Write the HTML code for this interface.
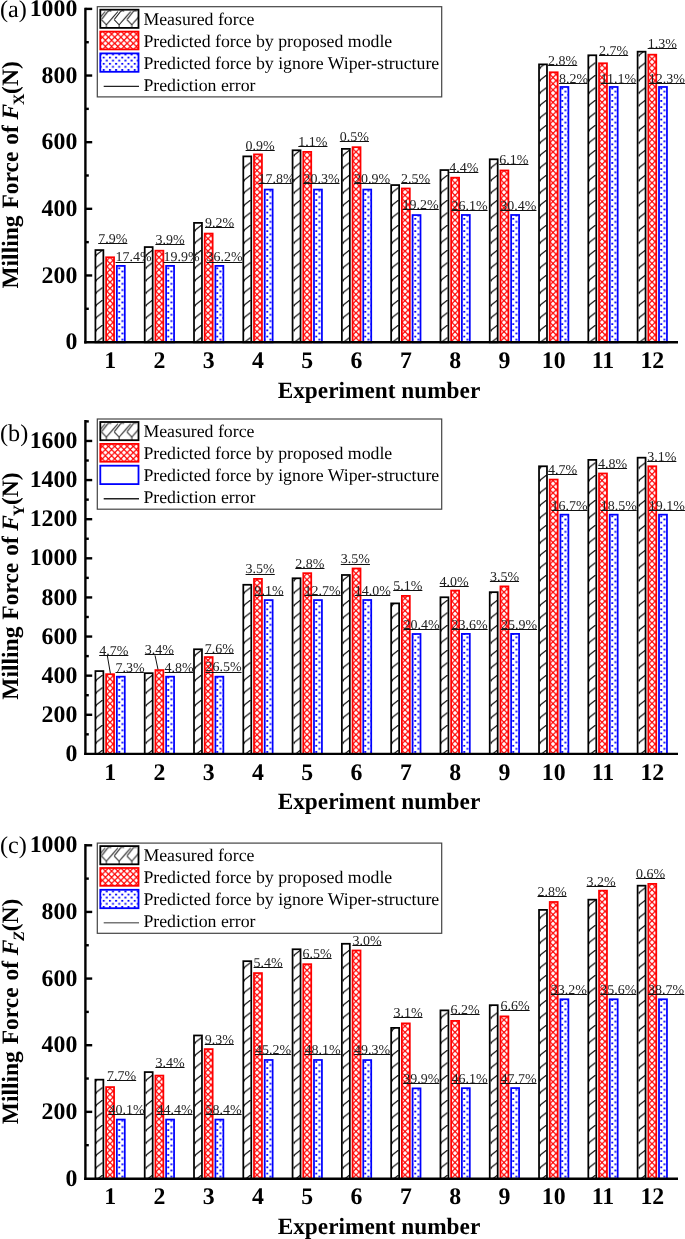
<!DOCTYPE html>
<html><head><meta charset="utf-8"><title>Milling force chart</title><style>
html,body{margin:0;padding:0;background:#fff;}
svg{display:block;will-change:transform;text-rendering:geometricPrecision;}
text{font-family:"Liberation Serif", serif;}
.p{font-size:14.0px;fill:#222;}
.u{stroke:#111;stroke-width:1;}
.yt{font-size:23.8px;font-weight:bold;text-anchor:end;}
.xt{font-size:23.8px;font-weight:bold;text-anchor:middle;}
.xl{font-size:23.3px;font-weight:bold;}
.yl{font-size:23.5px;font-weight:bold;word-spacing:1.0px;}
.pl{font-size:24.2px;}
.lg{font-size:17.8px;}
</style></head>
<body><svg width="685" height="1239" viewBox="0 0 685 1239">
<defs>
 <pattern id="pk" patternUnits="userSpaceOnUse" x="-10" y="0" width="20" height="12.5">
  <rect width="20" height="12.5" fill="#fff"/>
  <path d="M6.6,5.6 L13.6,0 M6.6,5.6 L8,5.6" stroke="#111" stroke-width="1.2" fill="none"/>
 </pattern>
 <pattern id="pkL" patternUnits="userSpaceOnUse" x="100.4" y="0" width="12.7" height="40">
  <rect width="12.7" height="40" fill="#fff"/>
  <path d="M-11.60,19.6 L-6.70,24.8 L4.90,11.5 M-6.70,24.8 L-6.70,28 M-11.60,19.6 L-5.60,11.85 M-5.60,11.85 Q-3.70,10.2 -1.70,11.2 M1.10,19.6 L6.00,24.8 L17.60,11.5 M6.00,24.8 L6.00,28 M1.10,19.6 L7.10,11.85 M7.10,11.85 Q9.00,10.2 11.00,11.2 M13.80,19.6 L18.70,24.8 L30.30,11.5 M18.70,24.8 L18.70,28 M13.80,19.6 L19.80,11.85 M19.80,11.85 Q21.70,10.2 23.70,11.2" stroke="#222" stroke-width="1.0" fill="none"/>
 </pattern>
 <pattern id="pr" patternUnits="userSpaceOnUse" width="6.2" height="6.2">
  <rect width="6.2" height="6.2" fill="#f00"/>
  <path d="M3.10,0.85 L5.35,3.10 L3.10,5.35 L0.85,3.10Z M0.00,-2.25 L2.25,0.00 L0.00,2.25 L-2.25,0.00Z M6.20,-2.25 L8.45,0.00 L6.20,2.25 L3.95,0.00Z M0.00,3.95 L2.25,6.20 L0.00,8.45 L-2.25,6.20Z M6.20,3.95 L8.45,6.20 L6.20,8.45 L3.95,6.20Z" fill="#fff"/>
 </pattern>
 <pattern id="pb" patternUnits="userSpaceOnUse" x="0" y="0" width="6.2" height="6.2">
  <rect width="6.2" height="6.2" fill="#fff"/>
  <rect x="-2.7" y="0.9" width="2" height="1.7" fill="#00f"/>
  <rect x="0.4" y="4.0" width="2" height="1.7" fill="#00f"/>
  <rect x="3.5" y="0.9" width="2" height="1.7" fill="#00f"/>
 </pattern>
</defs>
<rect width="685" height="1239" fill="#fff"/>
<g transform="translate(99,0)"><rect x="-3.58" y="250.07" width="7.95" height="92.23" fill="url(#pk)"/></g>
<rect x="95.42" y="250.07" width="7.95" height="92.23" fill="none" stroke="#000" stroke-width="1.75"/>
<g transform="translate(110,0)"><rect x="-3.88" y="257.27" width="7.95" height="85.03" fill="url(#pr)"/></g>
<rect x="106.12" y="257.27" width="7.95" height="85.03" fill="none" stroke="#f00" stroke-width="1.75"/>
<g transform="translate(121,0)"><rect x="-4.18" y="265.88" width="7.95" height="76.43" fill="url(#pb)"/></g>
<rect x="116.83" y="265.88" width="7.95" height="76.43" fill="none" stroke="#00f" stroke-width="1.75"/>
<g transform="translate(149,0)"><rect x="-4.29" y="247.07" width="7.95" height="95.23" fill="url(#pk)"/></g>
<rect x="144.72" y="247.07" width="7.95" height="95.23" fill="none" stroke="#000" stroke-width="1.75"/>
<g transform="translate(159,0)"><rect x="-3.59" y="250.68" width="7.95" height="91.62" fill="url(#pr)"/></g>
<rect x="155.41" y="250.68" width="7.95" height="91.62" fill="none" stroke="#f00" stroke-width="1.75"/>
<g transform="translate(170,0)"><rect x="-3.89" y="265.88" width="7.95" height="76.43" fill="url(#pb)"/></g>
<rect x="166.11" y="265.88" width="7.95" height="76.43" fill="none" stroke="#00f" stroke-width="1.75"/>
<g transform="translate(198,0)"><rect x="-3.99" y="222.88" width="7.95" height="119.43" fill="url(#pk)"/></g>
<rect x="194.01" y="222.88" width="7.95" height="119.43" fill="none" stroke="#000" stroke-width="1.75"/>
<g transform="translate(208,0)"><rect x="-3.29" y="233.57" width="7.95" height="108.73" fill="url(#pr)"/></g>
<rect x="204.71" y="233.57" width="7.95" height="108.73" fill="none" stroke="#f00" stroke-width="1.75"/>
<g transform="translate(219,0)"><rect x="-3.6" y="265.88" width="7.95" height="76.43" fill="url(#pb)"/></g>
<rect x="215.41" y="265.88" width="7.95" height="76.43" fill="none" stroke="#00f" stroke-width="1.75"/>
<g transform="translate(247,0)"><rect x="-3.7" y="156.38" width="7.95" height="185.93" fill="url(#pk)"/></g>
<rect x="243.3" y="156.38" width="7.95" height="185.93" fill="none" stroke="#000" stroke-width="1.75"/>
<g transform="translate(257,0)"><rect x="-3" y="154.38" width="7.95" height="187.93" fill="url(#pr)"/></g>
<rect x="254" y="154.38" width="7.95" height="187.93" fill="none" stroke="#f00" stroke-width="1.75"/>
<g transform="translate(269,0)"><rect x="-4.3" y="189.57" width="7.95" height="152.73" fill="url(#pb)"/></g>
<rect x="264.69" y="189.57" width="7.95" height="152.73" fill="none" stroke="#00f" stroke-width="1.75"/>
<g transform="translate(297,0)"><rect x="-4.41" y="150.28" width="7.95" height="192.03" fill="url(#pk)"/></g>
<rect x="292.58" y="150.28" width="7.95" height="192.03" fill="none" stroke="#000" stroke-width="1.75"/>
<g transform="translate(307,0)"><rect x="-3.72" y="151.88" width="7.95" height="190.43" fill="url(#pr)"/></g>
<rect x="303.28" y="151.88" width="7.95" height="190.43" fill="none" stroke="#f00" stroke-width="1.75"/>
<g transform="translate(318,0)"><rect x="-4.02" y="189.57" width="7.95" height="152.73" fill="url(#pb)"/></g>
<rect x="313.98" y="189.57" width="7.95" height="152.73" fill="none" stroke="#00f" stroke-width="1.75"/>
<g transform="translate(346,0)"><rect x="-4.13" y="148.88" width="7.95" height="193.43" fill="url(#pk)"/></g>
<rect x="341.87" y="148.88" width="7.95" height="193.43" fill="none" stroke="#000" stroke-width="1.75"/>
<g transform="translate(356,0)"><rect x="-3.43" y="147.18" width="7.95" height="195.12" fill="url(#pr)"/></g>
<rect x="352.57" y="147.18" width="7.95" height="195.12" fill="none" stroke="#f00" stroke-width="1.75"/>
<g transform="translate(367,0)"><rect x="-3.73" y="189.57" width="7.95" height="152.73" fill="url(#pb)"/></g>
<rect x="363.27" y="189.57" width="7.95" height="152.73" fill="none" stroke="#00f" stroke-width="1.75"/>
<g transform="translate(395,0)"><rect x="-3.83" y="185.07" width="7.95" height="157.23" fill="url(#pk)"/></g>
<rect x="391.17" y="185.07" width="7.95" height="157.23" fill="none" stroke="#000" stroke-width="1.75"/>
<g transform="translate(405,0)"><rect x="-3.13" y="188.47" width="7.95" height="153.83" fill="url(#pr)"/></g>
<rect x="401.87" y="188.47" width="7.95" height="153.83" fill="none" stroke="#f00" stroke-width="1.75"/>
<g transform="translate(417,0)"><rect x="-4.43" y="215.07" width="7.95" height="127.23" fill="url(#pb)"/></g>
<rect x="412.56" y="215.07" width="7.95" height="127.23" fill="none" stroke="#00f" stroke-width="1.75"/>
<g transform="translate(444,0)"><rect x="-3.54" y="170.07" width="7.95" height="172.23" fill="url(#pk)"/></g>
<rect x="440.45" y="170.07" width="7.95" height="172.23" fill="none" stroke="#000" stroke-width="1.75"/>
<g transform="translate(455,0)"><rect x="-3.85" y="177.68" width="7.95" height="164.62" fill="url(#pr)"/></g>
<rect x="451.15" y="177.68" width="7.95" height="164.62" fill="none" stroke="#f00" stroke-width="1.75"/>
<g transform="translate(466,0)"><rect x="-4.15" y="214.97" width="7.95" height="127.33" fill="url(#pb)"/></g>
<rect x="461.85" y="214.97" width="7.95" height="127.33" fill="none" stroke="#00f" stroke-width="1.75"/>
<g transform="translate(494,0)"><rect x="-4.26" y="159.28" width="7.95" height="183.03" fill="url(#pk)"/></g>
<rect x="489.74" y="159.28" width="7.95" height="183.03" fill="none" stroke="#000" stroke-width="1.75"/>
<g transform="translate(504,0)"><rect x="-3.56" y="170.47" width="7.95" height="171.83" fill="url(#pr)"/></g>
<rect x="500.44" y="170.47" width="7.95" height="171.83" fill="none" stroke="#f00" stroke-width="1.75"/>
<g transform="translate(515,0)"><rect x="-3.85" y="214.97" width="7.95" height="127.33" fill="url(#pb)"/></g>
<rect x="511.14" y="214.97" width="7.95" height="127.33" fill="none" stroke="#00f" stroke-width="1.75"/>
<g transform="translate(543,0)"><rect x="-3.97" y="64.38" width="7.95" height="277.93" fill="url(#pk)"/></g>
<rect x="539.03" y="64.38" width="7.95" height="277.93" fill="none" stroke="#000" stroke-width="1.75"/>
<g transform="translate(553,0)"><rect x="-3.26" y="72.28" width="7.95" height="270.02" fill="url(#pr)"/></g>
<rect x="549.74" y="72.28" width="7.95" height="270.02" fill="none" stroke="#f00" stroke-width="1.75"/>
<g transform="translate(564,0)"><rect x="-3.56" y="86.97" width="7.95" height="255.33" fill="url(#pb)"/></g>
<rect x="560.44" y="86.97" width="7.95" height="255.33" fill="none" stroke="#00f" stroke-width="1.75"/>
<g transform="translate(592,0)"><rect x="-3.68" y="55.27" width="7.95" height="287.03" fill="url(#pk)"/></g>
<rect x="588.32" y="55.27" width="7.95" height="287.03" fill="none" stroke="#000" stroke-width="1.75"/>
<g transform="translate(602,0)"><rect x="-2.97" y="63.27" width="7.95" height="279.03" fill="url(#pr)"/></g>
<rect x="599.02" y="63.27" width="7.95" height="279.03" fill="none" stroke="#f00" stroke-width="1.75"/>
<g transform="translate(614,0)"><rect x="-4.27" y="86.97" width="7.95" height="255.33" fill="url(#pb)"/></g>
<rect x="609.73" y="86.97" width="7.95" height="255.33" fill="none" stroke="#00f" stroke-width="1.75"/>
<g transform="translate(642,0)"><rect x="-4.39" y="51.67" width="7.95" height="290.62" fill="url(#pk)"/></g>
<rect x="637.61" y="51.67" width="7.95" height="290.62" fill="none" stroke="#000" stroke-width="1.75"/>
<g transform="translate(652,0)"><rect x="-3.69" y="54.67" width="7.95" height="287.62" fill="url(#pr)"/></g>
<rect x="648.31" y="54.67" width="7.95" height="287.62" fill="none" stroke="#f00" stroke-width="1.75"/>
<g transform="translate(663,0)"><rect x="-3.98" y="86.97" width="7.95" height="255.33" fill="url(#pb)"/></g>
<rect x="659.01" y="86.97" width="7.95" height="255.33" fill="none" stroke="#00f" stroke-width="1.75"/>
<line x1="85.4" y1="7.7" x2="85.4" y2="343.5" stroke="#000" stroke-width="2.4"/>
<line x1="84.2" y1="342.3" x2="678" y2="342.3" stroke="#000" stroke-width="2.4"/>
<text x="77.3" y="349.2" class="yt">0</text>
<line x1="85.4" y1="308.78" x2="88.8" y2="308.78" stroke="#000" stroke-width="2.4"/>
<line x1="85.4" y1="275.46" x2="92.2" y2="275.46" stroke="#000" stroke-width="2.4"/>
<text x="77.3" y="282.56" class="yt">200</text>
<line x1="85.4" y1="242.14" x2="88.8" y2="242.14" stroke="#000" stroke-width="2.4"/>
<line x1="85.4" y1="208.82" x2="92.2" y2="208.82" stroke="#000" stroke-width="2.4"/>
<text x="77.3" y="215.92" class="yt">400</text>
<line x1="85.4" y1="175.5" x2="88.8" y2="175.5" stroke="#000" stroke-width="2.4"/>
<line x1="85.4" y1="142.18" x2="92.2" y2="142.18" stroke="#000" stroke-width="2.4"/>
<text x="77.3" y="149.28" class="yt">600</text>
<line x1="85.4" y1="108.86" x2="88.8" y2="108.86" stroke="#000" stroke-width="2.4"/>
<line x1="85.4" y1="75.54" x2="92.2" y2="75.54" stroke="#000" stroke-width="2.4"/>
<text x="77.3" y="82.64" class="yt">800</text>
<line x1="85.4" y1="42.22" x2="88.8" y2="42.22" stroke="#000" stroke-width="2.4"/>
<line x1="85.4" y1="8.9" x2="92.2" y2="8.9" stroke="#000" stroke-width="2.4"/>
<text x="77.3" y="16" class="yt">1000</text>
<text x="110.1" y="367.9" class="xt">1</text>
<text x="159.39" y="367.9" class="xt">2</text>
<text x="208.68" y="367.9" class="xt">3</text>
<text x="257.97" y="367.9" class="xt">4</text>
<text x="307.26" y="367.9" class="xt">5</text>
<text x="356.55" y="367.9" class="xt">6</text>
<text x="405.84" y="367.9" class="xt">7</text>
<text x="455.13" y="367.9" class="xt">8</text>
<text x="504.42" y="367.9" class="xt">9</text>
<text x="553.71" y="367.9" class="xt">10</text>
<text x="603" y="367.9" class="xt">11</text>
<text x="652.29" y="367.9" class="xt">12</text>
<text x="277.7" y="397.8" class="xl">Experiment number</text>
<text transform="translate(17.9,288.6) rotate(-90)" class="yl">Milling Force of <tspan font-style="italic" dx="-1.3">F</tspan><tspan font-size="15.8" dy="6.4" dx="-1.2">X</tspan><tspan dy="-6.4" dx="-0.2">(N)</tspan></text>
<text x="0" y="17.1" class="pl">(a)</text>
<rect x="97.3" y="6.7" width="344.4" height="90.2" fill="#fff" stroke="#444" stroke-width="1.2"/>
<g transform="translate(0,0)"><rect x="100.3" y="9.7" width="38.2" height="18.2" fill="url(#pkL)" stroke="#000" stroke-width="1.8"/></g>
<rect x="100.3" y="31.6" width="38.2" height="17.8" fill="url(#pr)" stroke="#f00" stroke-width="1.8"/>
<rect x="100.3" y="53.4" width="38.2" height="18.4" fill="url(#pb)" stroke="#00f" stroke-width="1.8"/>
<line x1="103.7" y1="86.4" x2="139" y2="86.4" stroke="#222" stroke-width="1.4"/>
<text x="143.4" y="24.8" class="lg">Measured force</text>
<text x="143.4" y="46.7" class="lg">Predicted force by proposed modle</text>
<text x="143.4" y="68.6" class="lg">Predicted force by ignore Wiper-structure</text>
<text x="143.4" y="90.5" class="lg">Prediction error</text>
<text transform="translate(98.2,243.2) scale(1,0.965)" class="p">7.9%</text>
<line x1="98.2" y1="243.5" x2="127.36" y2="243.5" class="u"/>
<text transform="translate(155.4,243.6) scale(1,0.965)" class="p">3.9%</text>
<line x1="155.4" y1="244.5" x2="184.56" y2="244.5" class="u"/>
<text transform="translate(205,226.6) scale(1,0.965)" class="p">9.2%</text>
<line x1="205" y1="227.5" x2="234.16" y2="227.5" class="u"/>
<text transform="translate(245.6,149.5) scale(1,0.965)" class="p">0.9%</text>
<line x1="245.6" y1="150.5" x2="274.76" y2="150.5" class="u"/>
<text transform="translate(298.3,145.9) scale(1,0.965)" class="p">1.1%</text>
<line x1="298.3" y1="146.5" x2="327.46" y2="146.5" class="u"/>
<text transform="translate(339.8,140.7) scale(1,0.965)" class="p">0.5%</text>
<line x1="339.8" y1="141.5" x2="368.96" y2="141.5" class="u"/>
<text transform="translate(401.1,182.6) scale(1,0.965)" class="p">2.5%</text>
<line x1="401.1" y1="183.5" x2="430.26" y2="183.5" class="u"/>
<text transform="translate(449.2,171.8) scale(1,0.965)" class="p">4.4%</text>
<line x1="449.2" y1="172.5" x2="478.36" y2="172.5" class="u"/>
<text transform="translate(499.3,164.2) scale(1,0.965)" class="p">6.1%</text>
<line x1="499.3" y1="164.5" x2="528.46" y2="164.5" class="u"/>
<text transform="translate(548.1,64.9) scale(1,0.965)" class="p">2.8%</text>
<line x1="548.1" y1="65.5" x2="577.26" y2="65.5" class="u"/>
<text transform="translate(599,54.7) scale(1,0.965)" class="p">2.7%</text>
<line x1="599" y1="55.5" x2="628.16" y2="55.5" class="u"/>
<text transform="translate(647.7,47.7) scale(1,0.965)" class="p">1.3%</text>
<line x1="647.7" y1="48.5" x2="676.86" y2="48.5" class="u"/>
<text transform="translate(115.5,261.4) scale(1,0.965)" class="p">17.4%</text>
<line x1="115.5" y1="262.5" x2="143.84" y2="262.5" class="u"/>
<text transform="translate(163.6,261.4) scale(1,0.965)" class="p">19.9%</text>
<line x1="163.6" y1="262.5" x2="193.13" y2="262.5" class="u"/>
<text transform="translate(206.5,261.4) scale(1,0.965)" class="p">36.2%</text>
<line x1="206.5" y1="262.5" x2="242.42" y2="262.5" class="u"/>
<text transform="translate(258.5,183.3) scale(1,0.965)" class="p">17.8%</text>
<line x1="258.5" y1="183.5" x2="291.71" y2="183.5" class="u"/>
<text transform="translate(303.4,183.3) scale(1,0.965)" class="p">20.3%</text>
<line x1="303.4" y1="183.5" x2="339.56" y2="183.5" class="u"/>
<text transform="translate(354.1,183.3) scale(1,0.965)" class="p">20.9%</text>
<line x1="354.1" y1="183.5" x2="390.26" y2="183.5" class="u"/>
<text transform="translate(402.6,209.2) scale(1,0.965)" class="p">19.2%</text>
<line x1="402.6" y1="209.5" x2="438.76" y2="209.5" class="u"/>
<text transform="translate(451.4,209.6) scale(1,0.965)" class="p">26.1%</text>
<line x1="451.4" y1="210.5" x2="487.56" y2="210.5" class="u"/>
<text transform="translate(500.3,209.6) scale(1,0.965)" class="p">30.4%</text>
<line x1="500.3" y1="210.5" x2="536.46" y2="210.5" class="u"/>
<text transform="translate(559,82.5) scale(1,0.965)" class="p">8.2%</text>
<line x1="559" y1="83.5" x2="587.45" y2="83.5" class="u"/>
<text transform="translate(600.6,82.7) scale(1,0.965)" class="p">11.1%</text>
<line x1="600.6" y1="83.5" x2="636.24" y2="83.5" class="u"/>
<text transform="translate(648.8,82.7) scale(1,0.965)" class="p">12.3%</text>
<line x1="648.8" y1="83.5" x2="684.96" y2="83.5" class="u"/>
<g transform="translate(99,0)"><rect x="-3.58" y="671.08" width="7.95" height="82.82" fill="url(#pk)"/></g>
<rect x="95.42" y="671.08" width="7.95" height="82.82" fill="none" stroke="#000" stroke-width="1.75"/>
<g transform="translate(110,0)"><rect x="-3.88" y="674.17" width="7.95" height="79.73" fill="url(#pr)"/></g>
<rect x="106.12" y="674.17" width="7.95" height="79.73" fill="none" stroke="#f00" stroke-width="1.75"/>
<g transform="translate(121,0)"><rect x="-4.18" y="676.67" width="7.95" height="77.23" fill="url(#pb)"/></g>
<rect x="116.83" y="676.67" width="7.95" height="77.23" fill="none" stroke="#00f" stroke-width="1.75"/>
<g transform="translate(149,0)"><rect x="-4.29" y="673.17" width="7.95" height="80.73" fill="url(#pk)"/></g>
<rect x="144.72" y="673.17" width="7.95" height="80.73" fill="none" stroke="#000" stroke-width="1.75"/>
<g transform="translate(159,0)"><rect x="-3.59" y="670.08" width="7.95" height="83.82" fill="url(#pr)"/></g>
<rect x="155.41" y="670.08" width="7.95" height="83.82" fill="none" stroke="#f00" stroke-width="1.75"/>
<g transform="translate(170,0)"><rect x="-3.89" y="676.67" width="7.95" height="77.23" fill="url(#pb)"/></g>
<rect x="166.11" y="676.67" width="7.95" height="77.23" fill="none" stroke="#00f" stroke-width="1.75"/>
<g transform="translate(198,0)"><rect x="-3.99" y="649.27" width="7.95" height="104.62" fill="url(#pk)"/></g>
<rect x="194.01" y="649.27" width="7.95" height="104.62" fill="none" stroke="#000" stroke-width="1.75"/>
<g transform="translate(208,0)"><rect x="-3.29" y="657.08" width="7.95" height="96.82" fill="url(#pr)"/></g>
<rect x="204.71" y="657.08" width="7.95" height="96.82" fill="none" stroke="#f00" stroke-width="1.75"/>
<g transform="translate(219,0)"><rect x="-3.6" y="676.67" width="7.95" height="77.23" fill="url(#pb)"/></g>
<rect x="215.41" y="676.67" width="7.95" height="77.23" fill="none" stroke="#00f" stroke-width="1.75"/>
<g transform="translate(247,0)"><rect x="-3.7" y="584.77" width="7.95" height="169.12" fill="url(#pk)"/></g>
<rect x="243.3" y="584.77" width="7.95" height="169.12" fill="none" stroke="#000" stroke-width="1.75"/>
<g transform="translate(257,0)"><rect x="-3" y="578.88" width="7.95" height="175.02" fill="url(#pr)"/></g>
<rect x="254" y="578.88" width="7.95" height="175.02" fill="none" stroke="#f00" stroke-width="1.75"/>
<g transform="translate(269,0)"><rect x="-4.3" y="600.08" width="7.95" height="153.82" fill="url(#pb)"/></g>
<rect x="264.69" y="600.08" width="7.95" height="153.82" fill="none" stroke="#00f" stroke-width="1.75"/>
<g transform="translate(297,0)"><rect x="-4.41" y="578.27" width="7.95" height="175.62" fill="url(#pk)"/></g>
<rect x="292.58" y="578.27" width="7.95" height="175.62" fill="none" stroke="#000" stroke-width="1.75"/>
<g transform="translate(307,0)"><rect x="-3.72" y="573.17" width="7.95" height="180.73" fill="url(#pr)"/></g>
<rect x="303.28" y="573.17" width="7.95" height="180.73" fill="none" stroke="#f00" stroke-width="1.75"/>
<g transform="translate(318,0)"><rect x="-4.02" y="600.08" width="7.95" height="153.82" fill="url(#pb)"/></g>
<rect x="313.98" y="600.08" width="7.95" height="153.82" fill="none" stroke="#00f" stroke-width="1.75"/>
<g transform="translate(346,0)"><rect x="-4.13" y="574.98" width="7.95" height="178.92" fill="url(#pk)"/></g>
<rect x="341.87" y="574.98" width="7.95" height="178.92" fill="none" stroke="#000" stroke-width="1.75"/>
<g transform="translate(356,0)"><rect x="-3.43" y="568.48" width="7.95" height="185.42" fill="url(#pr)"/></g>
<rect x="352.57" y="568.48" width="7.95" height="185.42" fill="none" stroke="#f00" stroke-width="1.75"/>
<g transform="translate(367,0)"><rect x="-3.73" y="599.98" width="7.95" height="153.92" fill="url(#pb)"/></g>
<rect x="363.27" y="599.98" width="7.95" height="153.92" fill="none" stroke="#00f" stroke-width="1.75"/>
<g transform="translate(395,0)"><rect x="-3.83" y="603.38" width="7.95" height="150.52" fill="url(#pk)"/></g>
<rect x="391.17" y="603.38" width="7.95" height="150.52" fill="none" stroke="#000" stroke-width="1.75"/>
<g transform="translate(405,0)"><rect x="-3.13" y="595.88" width="7.95" height="158.02" fill="url(#pr)"/></g>
<rect x="401.87" y="595.88" width="7.95" height="158.02" fill="none" stroke="#f00" stroke-width="1.75"/>
<g transform="translate(417,0)"><rect x="-4.43" y="633.98" width="7.95" height="119.92" fill="url(#pb)"/></g>
<rect x="412.56" y="633.98" width="7.95" height="119.92" fill="none" stroke="#00f" stroke-width="1.75"/>
<g transform="translate(444,0)"><rect x="-3.54" y="597.27" width="7.95" height="156.62" fill="url(#pk)"/></g>
<rect x="440.45" y="597.27" width="7.95" height="156.62" fill="none" stroke="#000" stroke-width="1.75"/>
<g transform="translate(455,0)"><rect x="-3.85" y="590.58" width="7.95" height="163.32" fill="url(#pr)"/></g>
<rect x="451.15" y="590.58" width="7.95" height="163.32" fill="none" stroke="#f00" stroke-width="1.75"/>
<g transform="translate(466,0)"><rect x="-4.15" y="633.88" width="7.95" height="120.02" fill="url(#pb)"/></g>
<rect x="461.85" y="633.88" width="7.95" height="120.02" fill="none" stroke="#00f" stroke-width="1.75"/>
<g transform="translate(494,0)"><rect x="-4.26" y="592.17" width="7.95" height="161.73" fill="url(#pk)"/></g>
<rect x="489.74" y="592.17" width="7.95" height="161.73" fill="none" stroke="#000" stroke-width="1.75"/>
<g transform="translate(504,0)"><rect x="-3.56" y="586.38" width="7.95" height="167.52" fill="url(#pr)"/></g>
<rect x="500.44" y="586.38" width="7.95" height="167.52" fill="none" stroke="#f00" stroke-width="1.75"/>
<g transform="translate(515,0)"><rect x="-3.85" y="633.88" width="7.95" height="120.02" fill="url(#pb)"/></g>
<rect x="511.14" y="633.88" width="7.95" height="120.02" fill="none" stroke="#00f" stroke-width="1.75"/>
<g transform="translate(543,0)"><rect x="-3.97" y="466.27" width="7.95" height="287.62" fill="url(#pk)"/></g>
<rect x="539.03" y="466.27" width="7.95" height="287.62" fill="none" stroke="#000" stroke-width="1.75"/>
<g transform="translate(553,0)"><rect x="-3.26" y="479.57" width="7.95" height="274.32" fill="url(#pr)"/></g>
<rect x="549.74" y="479.57" width="7.95" height="274.32" fill="none" stroke="#f00" stroke-width="1.75"/>
<g transform="translate(564,0)"><rect x="-3.56" y="514.67" width="7.95" height="239.23" fill="url(#pb)"/></g>
<rect x="560.44" y="514.67" width="7.95" height="239.23" fill="none" stroke="#00f" stroke-width="1.75"/>
<g transform="translate(592,0)"><rect x="-3.68" y="459.88" width="7.95" height="294.02" fill="url(#pk)"/></g>
<rect x="588.32" y="459.88" width="7.95" height="294.02" fill="none" stroke="#000" stroke-width="1.75"/>
<g transform="translate(602,0)"><rect x="-2.97" y="473.48" width="7.95" height="280.42" fill="url(#pr)"/></g>
<rect x="599.02" y="473.48" width="7.95" height="280.42" fill="none" stroke="#f00" stroke-width="1.75"/>
<g transform="translate(614,0)"><rect x="-4.27" y="514.67" width="7.95" height="239.23" fill="url(#pb)"/></g>
<rect x="609.73" y="514.67" width="7.95" height="239.23" fill="none" stroke="#00f" stroke-width="1.75"/>
<g transform="translate(642,0)"><rect x="-4.39" y="457.68" width="7.95" height="296.22" fill="url(#pk)"/></g>
<rect x="637.61" y="457.68" width="7.95" height="296.22" fill="none" stroke="#000" stroke-width="1.75"/>
<g transform="translate(652,0)"><rect x="-3.69" y="466.27" width="7.95" height="287.62" fill="url(#pr)"/></g>
<rect x="648.31" y="466.27" width="7.95" height="287.62" fill="none" stroke="#f00" stroke-width="1.75"/>
<g transform="translate(663,0)"><rect x="-3.98" y="514.67" width="7.95" height="239.23" fill="url(#pb)"/></g>
<rect x="659.01" y="514.67" width="7.95" height="239.23" fill="none" stroke="#00f" stroke-width="1.75"/>
<line x1="85.4" y1="420.1" x2="85.4" y2="755.1" stroke="#000" stroke-width="2.4"/>
<line x1="84.2" y1="753.9" x2="678" y2="753.9" stroke="#000" stroke-width="2.4"/>
<text x="77.3" y="761" class="yt">0</text>
<line x1="85.4" y1="734.34" x2="88.8" y2="734.34" stroke="#000" stroke-width="2.4"/>
<line x1="85.4" y1="714.78" x2="92.2" y2="714.78" stroke="#000" stroke-width="2.4"/>
<text x="77.3" y="721.88" class="yt">200</text>
<line x1="85.4" y1="695.22" x2="88.8" y2="695.22" stroke="#000" stroke-width="2.4"/>
<line x1="85.4" y1="675.66" x2="92.2" y2="675.66" stroke="#000" stroke-width="2.4"/>
<text x="77.3" y="682.76" class="yt">400</text>
<line x1="85.4" y1="656.11" x2="88.8" y2="656.11" stroke="#000" stroke-width="2.4"/>
<line x1="85.4" y1="636.55" x2="92.2" y2="636.55" stroke="#000" stroke-width="2.4"/>
<text x="77.3" y="643.65" class="yt">600</text>
<line x1="85.4" y1="616.99" x2="88.8" y2="616.99" stroke="#000" stroke-width="2.4"/>
<line x1="85.4" y1="597.43" x2="92.2" y2="597.43" stroke="#000" stroke-width="2.4"/>
<text x="77.3" y="604.53" class="yt">800</text>
<line x1="85.4" y1="577.87" x2="88.8" y2="577.87" stroke="#000" stroke-width="2.4"/>
<line x1="85.4" y1="558.31" x2="92.2" y2="558.31" stroke="#000" stroke-width="2.4"/>
<text x="77.3" y="565.41" class="yt">1000</text>
<line x1="85.4" y1="538.75" x2="88.8" y2="538.75" stroke="#000" stroke-width="2.4"/>
<line x1="85.4" y1="519.19" x2="92.2" y2="519.19" stroke="#000" stroke-width="2.4"/>
<text x="77.3" y="526.29" class="yt">1200</text>
<line x1="85.4" y1="499.63" x2="88.8" y2="499.63" stroke="#000" stroke-width="2.4"/>
<line x1="85.4" y1="480.07" x2="92.2" y2="480.07" stroke="#000" stroke-width="2.4"/>
<text x="77.3" y="487.17" class="yt">1400</text>
<line x1="85.4" y1="460.51" x2="88.8" y2="460.51" stroke="#000" stroke-width="2.4"/>
<line x1="85.4" y1="440.96" x2="92.2" y2="440.96" stroke="#000" stroke-width="2.4"/>
<text x="77.3" y="448.06" class="yt">1600</text>
<line x1="85.4" y1="421.4" x2="88.8" y2="421.4" stroke="#000" stroke-width="2.4"/>
<text x="110.1" y="779.5" class="xt">1</text>
<text x="159.39" y="779.5" class="xt">2</text>
<text x="208.68" y="779.5" class="xt">3</text>
<text x="257.97" y="779.5" class="xt">4</text>
<text x="307.26" y="779.5" class="xt">5</text>
<text x="356.55" y="779.5" class="xt">6</text>
<text x="405.84" y="779.5" class="xt">7</text>
<text x="455.13" y="779.5" class="xt">8</text>
<text x="504.42" y="779.5" class="xt">9</text>
<text x="553.71" y="779.5" class="xt">10</text>
<text x="603" y="779.5" class="xt">11</text>
<text x="652.29" y="779.5" class="xt">12</text>
<text x="277.7" y="809.4" class="xl">Experiment number</text>
<text transform="translate(17.9,699.7) rotate(-90)" class="yl">Milling Force of <tspan font-style="italic" dx="-1.3">F</tspan><tspan font-size="15.8" dy="6.4" dx="-1.2">Y</tspan><tspan dy="-6.4" dx="-0.2">(N)</tspan></text>
<text x="0" y="441.2" class="pl">(b)</text>
<rect x="97.3" y="419" width="344.4" height="90.2" fill="#fff" stroke="#444" stroke-width="1.2"/>
<g transform="translate(0,412.3)"><rect x="100.3" y="9.7" width="38.2" height="18.2" fill="url(#pkL)" stroke="#000" stroke-width="1.8"/></g>
<rect x="100.3" y="443.9" width="38.2" height="17.8" fill="url(#pr)" stroke="#f00" stroke-width="1.8"/>
<rect x="100.3" y="465.7" width="38.2" height="18.4" fill="#fff" stroke="#00f" stroke-width="1.8"/>
<line x1="103.7" y1="498.7" x2="139" y2="498.7" stroke="#222" stroke-width="1.4"/>
<text x="143.4" y="437.1" class="lg">Measured force</text>
<text x="143.4" y="459" class="lg">Predicted force by proposed modle</text>
<text x="143.4" y="480.9" class="lg">Predicted force by ignore Wiper-structure</text>
<text x="143.4" y="502.8" class="lg">Prediction error</text>
<text transform="translate(99.2,655.1) scale(1,0.965)" class="p">4.7%</text>
<line x1="99.2" y1="655.5" x2="128.36" y2="655.5" class="u"/>
<text transform="translate(144.8,654.4) scale(1,0.965)" class="p">3.4%</text>
<line x1="144.8" y1="654.5" x2="173.96" y2="654.5" class="u"/>
<text transform="translate(204.7,652.5) scale(1,0.965)" class="p">7.6%</text>
<line x1="204.7" y1="653.5" x2="233.86" y2="653.5" class="u"/>
<text transform="translate(245.6,573.4) scale(1,0.965)" class="p">3.5%</text>
<line x1="245.6" y1="574.5" x2="274.76" y2="574.5" class="u"/>
<text transform="translate(295.3,567.7) scale(1,0.965)" class="p">2.8%</text>
<line x1="295.3" y1="568.5" x2="324.46" y2="568.5" class="u"/>
<text transform="translate(340.8,563.4) scale(1,0.965)" class="p">3.5%</text>
<line x1="340.8" y1="564.5" x2="369.96" y2="564.5" class="u"/>
<text transform="translate(393.2,590.4) scale(1,0.965)" class="p">5.1%</text>
<line x1="393.2" y1="590.5" x2="422.36" y2="590.5" class="u"/>
<text transform="translate(439.6,585.9) scale(1,0.965)" class="p">4.0%</text>
<line x1="439.6" y1="586.5" x2="468.76" y2="586.5" class="u"/>
<text transform="translate(489.9,581.2) scale(1,0.965)" class="p">3.5%</text>
<line x1="489.9" y1="581.5" x2="519.06" y2="581.5" class="u"/>
<text transform="translate(548.1,474) scale(1,0.965)" class="p">4.7%</text>
<line x1="548.1" y1="474.5" x2="577.26" y2="474.5" class="u"/>
<text transform="translate(597.9,468.3) scale(1,0.965)" class="p">4.8%</text>
<line x1="597.9" y1="468.5" x2="627.06" y2="468.5" class="u"/>
<text transform="translate(647.2,460.9) scale(1,0.965)" class="p">3.1%</text>
<line x1="647.2" y1="461.5" x2="676.36" y2="461.5" class="u"/>
<text transform="translate(115.5,671.8) scale(1,0.965)" class="p">7.3%</text>
<line x1="115.5" y1="672.5" x2="143.84" y2="672.5" class="u"/>
<text transform="translate(164.6,671.8) scale(1,0.965)" class="p">4.8%</text>
<line x1="164.6" y1="672.5" x2="193.13" y2="672.5" class="u"/>
<text transform="translate(205.4,671.4) scale(1,0.965)" class="p">26.5%</text>
<line x1="205.4" y1="672.5" x2="241.56" y2="672.5" class="u"/>
<text transform="translate(254.4,594.9) scale(1,0.965)" class="p">9.1%</text>
<line x1="254.4" y1="595.5" x2="283.56" y2="595.5" class="u"/>
<text transform="translate(304.5,594.9) scale(1,0.965)" class="p">12.7%</text>
<line x1="304.5" y1="595.5" x2="340.66" y2="595.5" class="u"/>
<text transform="translate(354.7,594.5) scale(1,0.965)" class="p">14.0%</text>
<line x1="354.7" y1="595.5" x2="390.29" y2="595.5" class="u"/>
<text transform="translate(403.4,628.9) scale(1,0.965)" class="p">20.4%</text>
<line x1="403.4" y1="629.5" x2="439.56" y2="629.5" class="u"/>
<text transform="translate(451.5,629) scale(1,0.965)" class="p">23.6%</text>
<line x1="451.5" y1="629.5" x2="487.66" y2="629.5" class="u"/>
<text transform="translate(500.9,629) scale(1,0.965)" class="p">25.9%</text>
<line x1="500.9" y1="629.5" x2="537.06" y2="629.5" class="u"/>
<text transform="translate(551.5,509.5) scale(1,0.965)" class="p">16.7%</text>
<line x1="551.5" y1="510.5" x2="587.45" y2="510.5" class="u"/>
<text transform="translate(600.8,509.5) scale(1,0.965)" class="p">18.5%</text>
<line x1="600.8" y1="510.5" x2="636.74" y2="510.5" class="u"/>
<text transform="translate(648.8,509.5) scale(1,0.965)" class="p">19.1%</text>
<line x1="648.8" y1="510.5" x2="684.96" y2="510.5" class="u"/>
<line x1="107.4" y1="656" x2="110.4" y2="673.5" class="u"/>
<line x1="155" y1="655.3" x2="158" y2="669.4" class="u"/>
<g transform="translate(99,0)"><rect x="-3.58" y="1079.67" width="7.95" height="99.03" fill="url(#pk)"/></g>
<rect x="95.42" y="1079.67" width="7.95" height="99.03" fill="none" stroke="#000" stroke-width="1.75"/>
<g transform="translate(110,0)"><rect x="-3.88" y="1087.08" width="7.95" height="91.62" fill="url(#pr)"/></g>
<rect x="106.12" y="1087.08" width="7.95" height="91.62" fill="none" stroke="#f00" stroke-width="1.75"/>
<g transform="translate(121,0)"><rect x="-4.18" y="1119.58" width="7.95" height="59.12" fill="url(#pb)"/></g>
<rect x="116.83" y="1119.58" width="7.95" height="59.12" fill="none" stroke="#00f" stroke-width="1.75"/>
<g transform="translate(149,0)"><rect x="-4.29" y="1072.08" width="7.95" height="106.62" fill="url(#pk)"/></g>
<rect x="144.72" y="1072.08" width="7.95" height="106.62" fill="none" stroke="#000" stroke-width="1.75"/>
<g transform="translate(159,0)"><rect x="-3.59" y="1075.58" width="7.95" height="103.12" fill="url(#pr)"/></g>
<rect x="155.41" y="1075.58" width="7.95" height="103.12" fill="none" stroke="#f00" stroke-width="1.75"/>
<g transform="translate(170,0)"><rect x="-3.89" y="1119.58" width="7.95" height="59.12" fill="url(#pb)"/></g>
<rect x="166.11" y="1119.58" width="7.95" height="59.12" fill="none" stroke="#00f" stroke-width="1.75"/>
<g transform="translate(198,0)"><rect x="-3.99" y="1035.47" width="7.95" height="143.23" fill="url(#pk)"/></g>
<rect x="194.01" y="1035.47" width="7.95" height="143.23" fill="none" stroke="#000" stroke-width="1.75"/>
<g transform="translate(208,0)"><rect x="-3.29" y="1049.08" width="7.95" height="129.62" fill="url(#pr)"/></g>
<rect x="204.71" y="1049.08" width="7.95" height="129.62" fill="none" stroke="#f00" stroke-width="1.75"/>
<g transform="translate(219,0)"><rect x="-3.6" y="1119.58" width="7.95" height="59.12" fill="url(#pb)"/></g>
<rect x="215.41" y="1119.58" width="7.95" height="59.12" fill="none" stroke="#00f" stroke-width="1.75"/>
<g transform="translate(247,0)"><rect x="-3.7" y="961.17" width="7.95" height="217.53" fill="url(#pk)"/></g>
<rect x="243.3" y="961.17" width="7.95" height="217.53" fill="none" stroke="#000" stroke-width="1.75"/>
<g transform="translate(257,0)"><rect x="-3" y="973.08" width="7.95" height="205.62" fill="url(#pr)"/></g>
<rect x="254" y="973.08" width="7.95" height="205.62" fill="none" stroke="#f00" stroke-width="1.75"/>
<g transform="translate(269,0)"><rect x="-4.3" y="1059.97" width="7.95" height="118.73" fill="url(#pb)"/></g>
<rect x="264.69" y="1059.97" width="7.95" height="118.73" fill="none" stroke="#00f" stroke-width="1.75"/>
<g transform="translate(297,0)"><rect x="-4.41" y="949.27" width="7.95" height="229.43" fill="url(#pk)"/></g>
<rect x="292.58" y="949.27" width="7.95" height="229.43" fill="none" stroke="#000" stroke-width="1.75"/>
<g transform="translate(307,0)"><rect x="-3.72" y="964.17" width="7.95" height="214.53" fill="url(#pr)"/></g>
<rect x="303.28" y="964.17" width="7.95" height="214.53" fill="none" stroke="#f00" stroke-width="1.75"/>
<g transform="translate(318,0)"><rect x="-4.02" y="1059.97" width="7.95" height="118.73" fill="url(#pb)"/></g>
<rect x="313.98" y="1059.97" width="7.95" height="118.73" fill="none" stroke="#00f" stroke-width="1.75"/>
<g transform="translate(346,0)"><rect x="-4.13" y="943.77" width="7.95" height="234.93" fill="url(#pk)"/></g>
<rect x="341.87" y="943.77" width="7.95" height="234.93" fill="none" stroke="#000" stroke-width="1.75"/>
<g transform="translate(356,0)"><rect x="-3.43" y="950.48" width="7.95" height="228.23" fill="url(#pr)"/></g>
<rect x="352.57" y="950.48" width="7.95" height="228.23" fill="none" stroke="#f00" stroke-width="1.75"/>
<g transform="translate(367,0)"><rect x="-3.73" y="1060.08" width="7.95" height="118.62" fill="url(#pb)"/></g>
<rect x="363.27" y="1060.08" width="7.95" height="118.62" fill="none" stroke="#00f" stroke-width="1.75"/>
<g transform="translate(395,0)"><rect x="-3.83" y="1027.88" width="7.95" height="150.83" fill="url(#pk)"/></g>
<rect x="391.17" y="1027.88" width="7.95" height="150.83" fill="none" stroke="#000" stroke-width="1.75"/>
<g transform="translate(405,0)"><rect x="-3.13" y="1023.38" width="7.95" height="155.33" fill="url(#pr)"/></g>
<rect x="401.87" y="1023.38" width="7.95" height="155.33" fill="none" stroke="#f00" stroke-width="1.75"/>
<g transform="translate(417,0)"><rect x="-4.43" y="1088.38" width="7.95" height="90.33" fill="url(#pb)"/></g>
<rect x="412.56" y="1088.38" width="7.95" height="90.33" fill="none" stroke="#00f" stroke-width="1.75"/>
<g transform="translate(444,0)"><rect x="-3.54" y="1010.38" width="7.95" height="168.33" fill="url(#pk)"/></g>
<rect x="440.45" y="1010.38" width="7.95" height="168.33" fill="none" stroke="#000" stroke-width="1.75"/>
<g transform="translate(455,0)"><rect x="-3.85" y="1020.88" width="7.95" height="157.83" fill="url(#pr)"/></g>
<rect x="451.15" y="1020.88" width="7.95" height="157.83" fill="none" stroke="#f00" stroke-width="1.75"/>
<g transform="translate(466,0)"><rect x="-4.15" y="1088.17" width="7.95" height="90.53" fill="url(#pb)"/></g>
<rect x="461.85" y="1088.17" width="7.95" height="90.53" fill="none" stroke="#00f" stroke-width="1.75"/>
<g transform="translate(494,0)"><rect x="-4.26" y="1005.17" width="7.95" height="173.53" fill="url(#pk)"/></g>
<rect x="489.74" y="1005.17" width="7.95" height="173.53" fill="none" stroke="#000" stroke-width="1.75"/>
<g transform="translate(504,0)"><rect x="-3.56" y="1016.38" width="7.95" height="162.33" fill="url(#pr)"/></g>
<rect x="500.44" y="1016.38" width="7.95" height="162.33" fill="none" stroke="#f00" stroke-width="1.75"/>
<g transform="translate(515,0)"><rect x="-3.85" y="1088.08" width="7.95" height="90.62" fill="url(#pb)"/></g>
<rect x="511.14" y="1088.08" width="7.95" height="90.62" fill="none" stroke="#00f" stroke-width="1.75"/>
<g transform="translate(543,0)"><rect x="-3.97" y="909.88" width="7.95" height="268.83" fill="url(#pk)"/></g>
<rect x="539.03" y="909.88" width="7.95" height="268.83" fill="none" stroke="#000" stroke-width="1.75"/>
<g transform="translate(553,0)"><rect x="-3.26" y="901.98" width="7.95" height="276.73" fill="url(#pr)"/></g>
<rect x="549.74" y="901.98" width="7.95" height="276.73" fill="none" stroke="#f00" stroke-width="1.75"/>
<g transform="translate(564,0)"><rect x="-3.56" y="999.27" width="7.95" height="179.43" fill="url(#pb)"/></g>
<rect x="560.44" y="999.27" width="7.95" height="179.43" fill="none" stroke="#00f" stroke-width="1.75"/>
<g transform="translate(592,0)"><rect x="-3.68" y="899.67" width="7.95" height="279.03" fill="url(#pk)"/></g>
<rect x="588.32" y="899.67" width="7.95" height="279.03" fill="none" stroke="#000" stroke-width="1.75"/>
<g transform="translate(602,0)"><rect x="-2.97" y="890.67" width="7.95" height="288.03" fill="url(#pr)"/></g>
<rect x="599.02" y="890.67" width="7.95" height="288.03" fill="none" stroke="#f00" stroke-width="1.75"/>
<g transform="translate(614,0)"><rect x="-4.27" y="999.27" width="7.95" height="179.43" fill="url(#pb)"/></g>
<rect x="609.73" y="999.27" width="7.95" height="179.43" fill="none" stroke="#00f" stroke-width="1.75"/>
<g transform="translate(642,0)"><rect x="-4.39" y="885.67" width="7.95" height="293.03" fill="url(#pk)"/></g>
<rect x="637.61" y="885.67" width="7.95" height="293.03" fill="none" stroke="#000" stroke-width="1.75"/>
<g transform="translate(652,0)"><rect x="-3.69" y="883.88" width="7.95" height="294.83" fill="url(#pr)"/></g>
<rect x="648.31" y="883.88" width="7.95" height="294.83" fill="none" stroke="#f00" stroke-width="1.75"/>
<g transform="translate(663,0)"><rect x="-3.98" y="999.27" width="7.95" height="179.43" fill="url(#pb)"/></g>
<rect x="659.01" y="999.27" width="7.95" height="179.43" fill="none" stroke="#00f" stroke-width="1.75"/>
<line x1="85.4" y1="844.1" x2="85.4" y2="1179.9" stroke="#000" stroke-width="2.4"/>
<line x1="84.2" y1="1178.7" x2="678" y2="1178.7" stroke="#000" stroke-width="2.4"/>
<text x="77.3" y="1185.6" class="yt">0</text>
<line x1="85.4" y1="1145.18" x2="88.8" y2="1145.18" stroke="#000" stroke-width="2.4"/>
<line x1="85.4" y1="1111.86" x2="92.2" y2="1111.86" stroke="#000" stroke-width="2.4"/>
<text x="77.3" y="1118.96" class="yt">200</text>
<line x1="85.4" y1="1078.54" x2="88.8" y2="1078.54" stroke="#000" stroke-width="2.4"/>
<line x1="85.4" y1="1045.22" x2="92.2" y2="1045.22" stroke="#000" stroke-width="2.4"/>
<text x="77.3" y="1052.32" class="yt">400</text>
<line x1="85.4" y1="1011.9" x2="88.8" y2="1011.9" stroke="#000" stroke-width="2.4"/>
<line x1="85.4" y1="978.58" x2="92.2" y2="978.58" stroke="#000" stroke-width="2.4"/>
<text x="77.3" y="985.68" class="yt">600</text>
<line x1="85.4" y1="945.26" x2="88.8" y2="945.26" stroke="#000" stroke-width="2.4"/>
<line x1="85.4" y1="911.94" x2="92.2" y2="911.94" stroke="#000" stroke-width="2.4"/>
<text x="77.3" y="919.04" class="yt">800</text>
<line x1="85.4" y1="878.62" x2="88.8" y2="878.62" stroke="#000" stroke-width="2.4"/>
<line x1="85.4" y1="845.3" x2="92.2" y2="845.3" stroke="#000" stroke-width="2.4"/>
<text x="77.3" y="852.4" class="yt">1000</text>
<text x="110.1" y="1204.3" class="xt">1</text>
<text x="159.39" y="1204.3" class="xt">2</text>
<text x="208.68" y="1204.3" class="xt">3</text>
<text x="257.97" y="1204.3" class="xt">4</text>
<text x="307.26" y="1204.3" class="xt">5</text>
<text x="356.55" y="1204.3" class="xt">6</text>
<text x="405.84" y="1204.3" class="xt">7</text>
<text x="455.13" y="1204.3" class="xt">8</text>
<text x="504.42" y="1204.3" class="xt">9</text>
<text x="553.71" y="1204.3" class="xt">10</text>
<text x="603" y="1204.3" class="xt">11</text>
<text x="652.29" y="1204.3" class="xt">12</text>
<text x="277.7" y="1234.2" class="xl">Experiment number</text>
<text transform="translate(17.9,1124.3) rotate(-90)" class="yl">Milling Force of <tspan font-style="italic" dx="-1.3">F</tspan><tspan font-size="15.8" dy="6.4" dx="-1.2" font-style="italic">Z</tspan><tspan dy="-6.4" dx="-0.2">(N)</tspan></text>
<text x="0" y="853.1" class="pl">(c)</text>
<rect x="97.3" y="843.1" width="344.4" height="90.2" fill="#fff" stroke="#444" stroke-width="1.2"/>
<g transform="translate(0,836.4)"><rect x="100.3" y="9.7" width="38.2" height="18.2" fill="url(#pkL)" stroke="#000" stroke-width="1.8"/></g>
<rect x="100.3" y="868" width="38.2" height="17.8" fill="url(#pr)" stroke="#f00" stroke-width="1.8"/>
<rect x="100.3" y="889.8" width="38.2" height="18.4" fill="url(#pb)" stroke="#00f" stroke-width="1.8"/>
<line x1="103.7" y1="922.8" x2="139" y2="922.8" stroke="#777" stroke-width="1.4"/>
<text x="143.4" y="861.2" class="lg">Measured force</text>
<text x="143.4" y="883.1" class="lg">Predicted force by proposed modle</text>
<text x="143.4" y="905" class="lg">Predicted force by ignore Wiper-structure</text>
<text x="143.4" y="926.9" class="lg">Prediction error</text>
<text transform="translate(107,1080.2) scale(1,0.965)" class="p">7.7%</text>
<line x1="107" y1="1080.5" x2="136.16" y2="1080.5" class="u"/>
<text transform="translate(155.4,1067.3) scale(1,0.965)" class="p">3.4%</text>
<line x1="155.4" y1="1067.5" x2="184.56" y2="1067.5" class="u"/>
<text transform="translate(204.7,1043.5) scale(1,0.965)" class="p">9.3%</text>
<line x1="204.7" y1="1044.5" x2="233.86" y2="1044.5" class="u"/>
<text transform="translate(253.6,966.9) scale(1,0.965)" class="p">5.4%</text>
<line x1="253.6" y1="967.5" x2="282.76" y2="967.5" class="u"/>
<text transform="translate(302.5,957.9) scale(1,0.965)" class="p">6.5%</text>
<line x1="302.5" y1="958.5" x2="331.66" y2="958.5" class="u"/>
<text transform="translate(352.4,944.5) scale(1,0.965)" class="p">3.0%</text>
<line x1="352.4" y1="945.5" x2="381.56" y2="945.5" class="u"/>
<text transform="translate(393.4,1016.5) scale(1,0.965)" class="p">3.1%</text>
<line x1="393.4" y1="1017.5" x2="422.56" y2="1017.5" class="u"/>
<text transform="translate(450.5,1013.5) scale(1,0.965)" class="p">6.2%</text>
<line x1="450.5" y1="1014.5" x2="479.66" y2="1014.5" class="u"/>
<text transform="translate(500.5,1009.5) scale(1,0.965)" class="p">6.6%</text>
<line x1="500.5" y1="1010.5" x2="529.66" y2="1010.5" class="u"/>
<text transform="translate(537.5,896.1) scale(1,0.965)" class="p">2.8%</text>
<line x1="537.5" y1="896.5" x2="566.66" y2="896.5" class="u"/>
<text transform="translate(586.6,885.5) scale(1,0.965)" class="p">3.2%</text>
<line x1="586.6" y1="886.5" x2="615.76" y2="886.5" class="u"/>
<text transform="translate(635.9,878) scale(1,0.965)" class="p">0.6%</text>
<line x1="635.9" y1="878.5" x2="665.06" y2="878.5" class="u"/>
<text transform="translate(108.4,1114.3) scale(1,0.965)" class="p">40.1%</text>
<line x1="108.4" y1="1114.5" x2="143.84" y2="1114.5" class="u"/>
<text transform="translate(156.4,1114.3) scale(1,0.965)" class="p">44.4%</text>
<line x1="156.4" y1="1114.5" x2="192.56" y2="1114.5" class="u"/>
<text transform="translate(205.5,1114.3) scale(1,0.965)" class="p">58.4%</text>
<line x1="205.5" y1="1114.5" x2="241.66" y2="1114.5" class="u"/>
<text transform="translate(255,1054.1) scale(1,0.965)" class="p">45.2%</text>
<line x1="255" y1="1054.5" x2="291.16" y2="1054.5" class="u"/>
<text transform="translate(304.5,1054.1) scale(1,0.965)" class="p">48.1%</text>
<line x1="304.5" y1="1054.5" x2="340.66" y2="1054.5" class="u"/>
<text transform="translate(354.1,1053.9) scale(1,0.965)" class="p">49.3%</text>
<line x1="354.1" y1="1054.5" x2="390.26" y2="1054.5" class="u"/>
<text transform="translate(403.2,1082.7) scale(1,0.965)" class="p">39.9%</text>
<line x1="403.2" y1="1083.5" x2="439.36" y2="1083.5" class="u"/>
<text transform="translate(451.5,1083.1) scale(1,0.965)" class="p">46.1%</text>
<line x1="451.5" y1="1083.5" x2="487.66" y2="1083.5" class="u"/>
<text transform="translate(500.5,1083.1) scale(1,0.965)" class="p">47.7%</text>
<line x1="500.5" y1="1083.5" x2="536.66" y2="1083.5" class="u"/>
<text transform="translate(550.8,994.3) scale(1,0.965)" class="p">33.2%</text>
<line x1="550.8" y1="994.5" x2="586.96" y2="994.5" class="u"/>
<text transform="translate(600.2,994.3) scale(1,0.965)" class="p">35.6%</text>
<line x1="600.2" y1="994.5" x2="636.36" y2="994.5" class="u"/>
<text transform="translate(648.1,994.3) scale(1,0.965)" class="p">38.7%</text>
<line x1="648.1" y1="994.5" x2="684.26" y2="994.5" class="u"/>
</svg></body></html>
